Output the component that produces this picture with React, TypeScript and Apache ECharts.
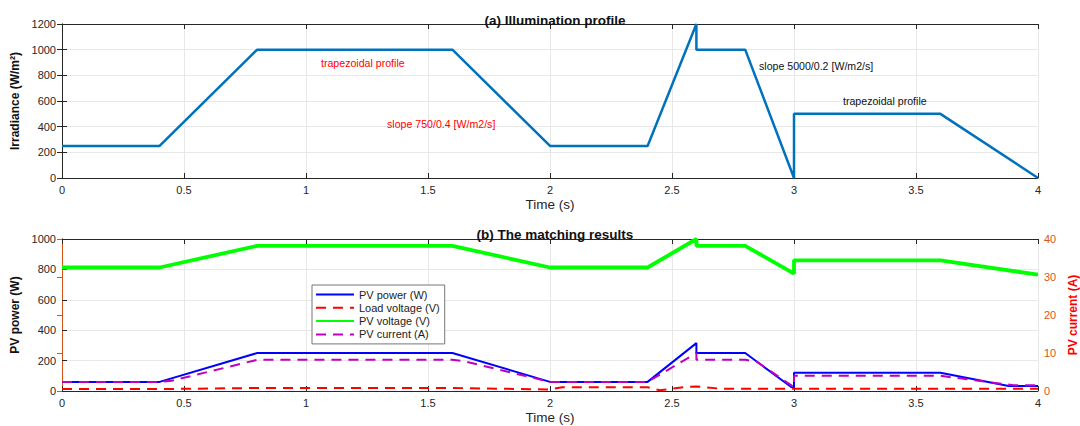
import React, { useEffect, useRef } from "react";
import * as echarts from "echarts";

// ---- Data ----
const tIrr = [0, 0.4, 0.8, 1.6, 2.0, 2.4, 2.6, 2.6, 2.8, 3.0, 3.0, 3.6, 4.0];
const irradiance = [250, 250, 1000, 1000, 250, 250, 1200, 1000, 1000, 0, 500, 500, 0];

const tPower = [0, 0.4, 0.8, 1.6, 2.0, 2.4, 2.6, 2.6, 2.8, 2.99, 3.0, 3.0, 3.6, 3.88, 4.0];
const pvPower = [60, 60, 250, 250, 60, 60, 315, 250, 250, 25, 25, 120, 120, 33, 33];

const tLoad = [0, 0.4, 0.8, 1.6, 2.0, 2.05, 2.4, 2.45, 2.55, 2.6, 2.7, 4.0];
const loadVoltage = [0.5, 0.5, 0.8, 0.8, 0.4, 1.0, 1.0, 0.2, 1.0, 1.2, 0.6, 0.6];

const tVolt = [0, 0.4, 0.8, 1.6, 2.0, 2.4, 2.6, 2.6, 2.8, 3.0, 3.0, 3.6, 4.0];
const pvVoltage = [32.5, 32.5, 38.2, 38.2, 32.5, 32.5, 40, 38.2, 38.2, 30.9, 34.4, 34.4, 30.6];

const tCurr = [0, 0.4, 0.45, 0.8, 1.6, 1.65, 2.0, 2.4, 2.6, 2.6, 2.8, 2.85, 3.0, 3.0, 3.6, 3.9, 4.0];
const pvCurrent = [2.4, 2.4, 2.7, 8.2, 8.2, 7.8, 2.4, 2.4, 10, 8.2, 8.2, 7.6, 1.0, 4.0, 4.0, 1.5, 1.5];

const legendNames = ["PV power (W)", "Load voltage (V)", "PV voltage (V)", "PV current (A)"];

const zip = (xs: number[], ys: number[]) => xs.map((x, i) => [x, ys[i]]);

const FONT = "Liberation Sans, Arial, Helvetica, sans-serif";
const GRID_LINE = "#e8e8e8";
const AXIS_COL = "#262626";
const ORANGE = "#D95319";
const plain = (v: number) => String(v);

export default function App() {
  const ref = useRef<HTMLDivElement>(null);
  useEffect(() => {
    if (!ref.current) return;
    const chart = echarts.init(ref.current, undefined, { renderer: "svg" });

    const xAxisBase = (gridIndex: number, nameGap: number) => ({
      type: "value",
      gridIndex,
      min: 0,
      max: 4,
      interval: 0.5,
      name: "Time (s)",
      nameLocation: "middle",
      nameGap,
      nameTextStyle: { color: AXIS_COL, fontSize: 13.5, fontFamily: FONT },
      axisLine: { show: true, onZero: false, lineStyle: { color: AXIS_COL, width: 1 } },
      axisTick: { show: true, inside: true, length: 5, lineStyle: { color: AXIS_COL } },
      axisLabel: { color: AXIS_COL, fontSize: 11, fontFamily: FONT, margin: 6, formatter: plain },
      splitLine: { show: true, lineStyle: { color: GRID_LINE, width: 1 } },
    });
    const xAxisTop = (gridIndex: number) => ({
      type: "value",
      gridIndex,
      position: "top",
      min: 0,
      max: 4,
      interval: 0.5,
      axisLine: { show: true, onZero: false, lineStyle: { color: AXIS_COL, width: 1 } },
      axisTick: { show: true, inside: true, length: 5, lineStyle: { color: AXIS_COL } },
      axisLabel: { show: false },
      splitLine: { show: false },
    });

    const annot = (left: number, top: number, text: string, fill: string) => ({
      type: "text",
      left,
      top,
      z: 100,
      style: { text, fill, fontSize: 10.6, fontFamily: FONT },
    });

    const option: any = {
      animation: false,
      backgroundColor: "#ffffff",
      title: [
        {
          text: "(a) Illumination profile",
          left: 550,
          top: 8,
          textAlign: "center",
          textStyle: { fontSize: 13.5, fontWeight: "bold", color: "#111", fontFamily: FONT },
        },
        {
          text: "(b) The matching results",
          left: 550,
          top: 222,
          textAlign: "center",
          textStyle: { fontSize: 13.5, fontWeight: "bold", color: "#111", fontFamily: FONT },
        },
      ],
      grid: [
        { left: 62, right: 42, top: 24, height: 154, show: false, containLabel: false, outerBoundsMode: "none" },
        { left: 62, right: 42, top: 239, height: 152, show: false, containLabel: false, outerBoundsMode: "none" },
      ],
      xAxis: [xAxisBase(0, 19), xAxisTop(0), xAxisBase(1, 19), xAxisTop(1)],
      yAxis: [
        {
          type: "value",
          gridIndex: 0,
          min: 0,
          max: 1200,
          interval: 200,
          name: "Irradiance (W/m²)",
          nameLocation: "middle",
          nameGap: 35,
          nameRotate: 90,
          nameTextStyle: { color: "#111", fontSize: 12, fontWeight: "bold", fontFamily: FONT },
          axisLine: { show: true, lineStyle: { color: AXIS_COL } },
          axisTick: { show: true, inside: true, length: 5, lineStyle: { color: AXIS_COL } },
          axisLabel: { color: AXIS_COL, fontSize: 11, fontFamily: FONT, margin: 6, formatter: plain },
          splitLine: { show: true, lineStyle: { color: GRID_LINE } },
        },
        {
          type: "value",
          gridIndex: 0,
          position: "right",
          min: 0,
          max: 1200,
          interval: 200,
          axisLine: { show: true, lineStyle: { color: AXIS_COL } },
          axisTick: { show: true, inside: true, length: 5, lineStyle: { color: AXIS_COL } },
          axisLabel: { show: false },
          splitLine: { show: false },
        },
        {
          type: "value",
          gridIndex: 1,
          min: 0,
          max: 1000,
          interval: 200,
          name: "PV power (W)",
          nameLocation: "middle",
          nameGap: 34,
          nameRotate: 90,
          nameTextStyle: { color: "#111", fontSize: 12, fontWeight: "bold", fontFamily: FONT },
          axisLine: { show: true, lineStyle: { color: AXIS_COL } },
          axisTick: { show: true, inside: true, length: 5, lineStyle: { color: AXIS_COL } },
          axisLabel: { color: AXIS_COL, fontSize: 11, fontFamily: FONT, margin: 6, formatter: plain },
          splitLine: { show: true, lineStyle: { color: GRID_LINE } },
        },
        {
          type: "value",
          gridIndex: 1,
          position: "right",
          min: 0,
          max: 40,
          interval: 10,
          name: "PV current (A)",
          nameLocation: "middle",
          nameGap: 24,
          nameRotate: 90,
          nameTextStyle: { color: "#ff0000", fontSize: 12, fontWeight: "bold", fontFamily: FONT },
          axisLine: { show: true, lineStyle: { color: ORANGE } },
          axisTick: { show: true, inside: true, length: 5, lineStyle: { color: ORANGE } },
          axisLabel: { color: ORANGE, fontSize: 11, fontFamily: FONT, margin: 6, formatter: plain },
          splitLine: { show: false },
        },
      ],
      legend: {
        orient: "vertical",
        left: 312,
        top: 285,
        padding: [4, 5, 4, 3],
        itemGap: 2.3,
        itemWidth: 38,
        itemHeight: 10,
        backgroundColor: "#ffffff",
        borderColor: "#777",
        borderWidth: 1,
        borderRadius: 0,
        itemStyle: { opacity: 0 },
        textStyle: { fontSize: 11, color: "#222", fontFamily: FONT },
        data: legendNames,
      },
      graphic: [
        annot(321, 57, "trapezoidal profile", "#ff0000"),
        annot(387, 118, "slope 750/0.4 [W/m2/s]", "#ff0000"),
        annot(759, 60, "slope 5000/0.2 [W/m2/s]", "#111"),
        annot(843, 95, "trapezoidal profile", "#111"),
      ],
      series: [
        {
          name: "Irradiance",
          type: "line",
          xAxisIndex: 0,
          yAxisIndex: 0,
          data: zip(tIrr, irradiance),
          symbol: "none",
          lineStyle: { color: "#0072BD", width: 2.5 },
          itemStyle: { color: "#0072BD" },
        },
        {
          name: legendNames[2],
          type: "line",
          xAxisIndex: 2,
          yAxisIndex: 3,
          data: zip(tVolt, pvVoltage),
          symbol: "none",
          lineStyle: { color: "#00ff00", width: 3.8 },
          itemStyle: { color: "#00ff00" },
        },
        {
          name: legendNames[0],
          type: "line",
          xAxisIndex: 2,
          yAxisIndex: 2,
          data: zip(tPower, pvPower),
          symbol: "none",
          lineStyle: { color: "#0000ff", width: 2 },
          itemStyle: { color: "#0000ff" },
        },
        {
          name: legendNames[3],
          type: "line",
          xAxisIndex: 2,
          yAxisIndex: 3,
          data: zip(tCurr, pvCurrent),
          symbol: "none",
          lineStyle: { color: "#c000c0", width: 2, type: [10, 7] },
          itemStyle: { color: "#c000c0" },
        },
        {
          name: legendNames[1],
          type: "line",
          xAxisIndex: 2,
          yAxisIndex: 3,
          data: zip(tLoad, loadVoltage),
          symbol: "none",
          lineStyle: { color: "#ff0000", width: 2, type: [10, 7] },
          itemStyle: { color: "#ff0000" },
        },
      ],
    };
    chart.setOption(option);
    return () => chart.dispose();
  }, []);

  return (
    <div
      ref={ref}
      style={{ position: "fixed", left: 0, top: 0, width: 1080, height: 426, background: "#fff" }}
    />
  );
}
